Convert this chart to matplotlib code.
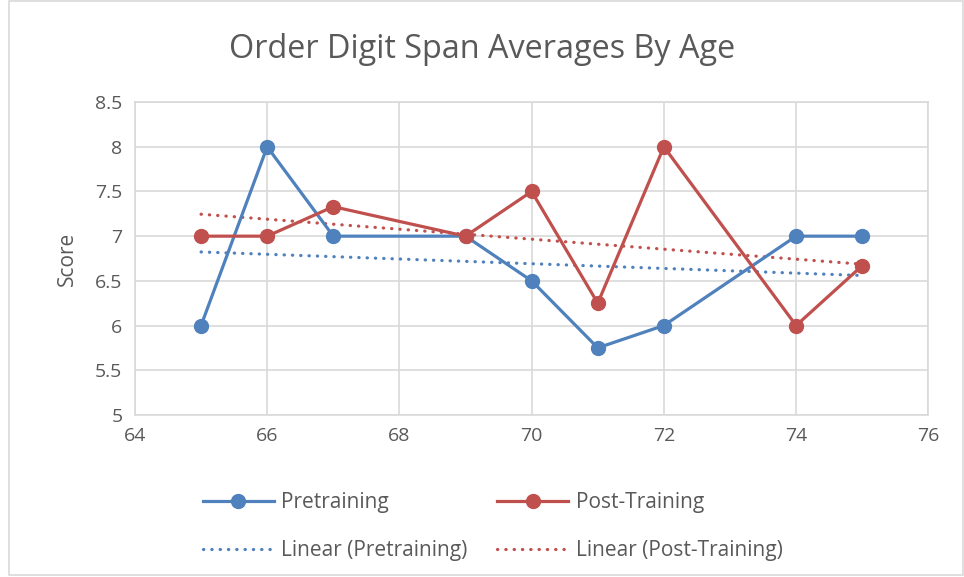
import numpy as np
import matplotlib
matplotlib.use("Agg")
import matplotlib.pyplot as plt
from matplotlib.lines import Line2D
from matplotlib.patches import Rectangle

plt.rcParams['font.family'] = ['Open Sans', 'DejaVu Sans']

# data
ages = [65, 66, 67, 69, 70, 71, 72, 74, 75]
pretraining = [6, 8, 7, 7, 6.5, 5.75, 6, 7, 7]
post_training = [7, 7, 7.33, 7, 7.5, 6.25, 8, 6, 6.67]

BLUE = "#4F81BD"
RED = "#C0504D"
TEXT = "#595959"
GRID = "#D9D9D9"
DOTS = (0, (0.1, 2.5))

fig = plt.figure(figsize=(9.64, 5.77), dpi=100)
ax = fig.add_axes([0.140, 0.281, 0.823, 0.542])

# series lines
ax.plot(ages, pretraining, color=BLUE, lw=2.3, marker="o", ms=10, zorder=4)
ax.plot(ages, post_training, color=RED, lw=2.3, marker="o", ms=10, zorder=4)

# linear trendlines
x = np.array(ages, dtype=float)
for vals, col in [(pretraining, BLUE), (post_training, RED)]:
    m, b = np.polyfit(x, np.array(vals), 1)
    xs = np.array([x.min(), x.max()])
    ax.plot(xs, m * xs + b, color=col, lw=2.3, ls=DOTS,
            dash_capstyle="round", zorder=3)

ax.set_xlim(64, 76)
ax.set_ylim(5, 8.5)
ax.set_xticks(np.arange(64, 77, 2))
ax.set_yticks(np.arange(5, 8.51, 0.5))
ax.set_yticklabels(["5", "5.5", "6", "6.5", "7", "7.5", "8", "8.5"])
ax.grid(True, color=GRID, lw=1.2)
ax.set_axisbelow(True)
for s in ax.spines.values():
    s.set_color(GRID)
    s.set_linewidth(1.2)
ax.tick_params(length=0, labelsize=14, colors=TEXT, pad=9)
ax.set_ylabel("Score", fontsize=15, color=TEXT, labelpad=12)

fig.text(0.5, 0.914, "Order Digit Span Averages By Age", ha="center", va="center",
         fontsize=23.3, color=TEXT)

handles = [
    Line2D([], [], color=BLUE, lw=2.3, marker="o", ms=10),
    Line2D([], [], color=BLUE, lw=2.3, ls=DOTS, dash_capstyle="round"),
    Line2D([], [], color=RED, lw=2.3, marker="o", ms=10),
    Line2D([], [], color=RED, lw=2.3, ls=DOTS, dash_capstyle="round"),
]
labels = ["Pretraining", "Linear (Pretraining)", "Post-Training", "Linear (Post-Training)"]
fig.legend(handles, labels, ncol=2, loc="center", bbox_to_anchor=(0.511, 0.087),
           frameon=False, fontsize=15, labelcolor=TEXT, handlelength=3.4,
           handletextpad=0.35, columnspacing=1.45, labelspacing=1.3)

fig.patches.append(Rectangle((0.009, 0.003), 0.99, 0.996, transform=fig.transFigure,
                             fill=False, edgecolor=GRID, lw=1.2))

fig.savefig("out.png", dpi=100)
